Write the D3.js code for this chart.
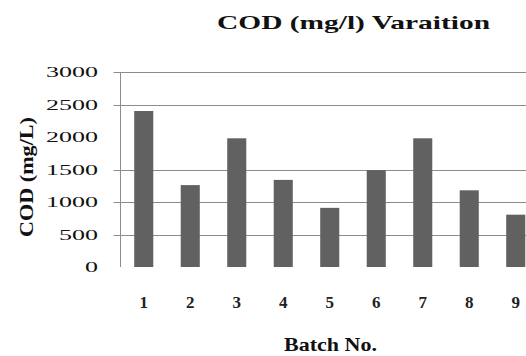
<!DOCTYPE html>
<html>
<head>
<meta charset="utf-8">
<script src="https://cdn.jsdelivr.net/npm/d3@7"></script>
<style>
  html, body { margin: 0; padding: 0; background: #fff; }
</style>
</head>
<body>
<svg id="chart" width="526" height="356"></svg>
<script>
// Batch numbers and measured COD values (mg/L)
const batches = ["1", "2", "3", "4", "5", "6", "7", "8", "9"];
const codValues = [2400, 1260, 1980, 1340, 910, 1490, 1980, 1180, 805];
// Y tick labels and the values that carry a gridline
const yTickValues = [0, 500, 1000, 1500, 2000, 2500, 3000];
const gridValues = [500, 1000, 1500, 2500, 3000];

const FONT = "'Liberation Serif', 'DejaVu Serif', 'Times New Roman', serif";

const svg = d3.select("#chart");
const W = 526;

const axisX = 120.5;
const step = 46.5;

const y = d3.scaleLinear().domain([0, 3000]).range([267, 72]);
const x = d3.scaleBand()
  .domain(batches)
  .range([axisX, axisX + step * batches.length])
  .paddingInner(0.59)
  .paddingOuter(0.295);

const gridColor = "#8c8c8c";

// gridlines with short outer tick marks
svg.append("g").selectAll("line")
  .data(gridValues)
  .join("line")
  .attr("x1", axisX - 7)
  .attr("x2", W)
  .attr("y1", d => Math.round(y(d)) + 0.5)
  .attr("y2", d => Math.round(y(d)) + 0.5)
  .attr("stroke", gridColor)
  .attr("stroke-width", 1);

// vertical value axis line
svg.append("line")
  .attr("x1", axisX).attr("x2", axisX)
  .attr("y1", y(3000)).attr("y2", y(0))
  .attr("stroke", gridColor)
  .attr("stroke-width", 1);

// bars
svg.append("g").selectAll("rect")
  .data(codValues)
  .join("rect")
  .attr("x", (d, i) => x(batches[i]))
  .attr("width", x.bandwidth())
  .attr("y", d => y(d))
  .attr("height", d => y(0) - y(d))
  .attr("fill", "#616161");

// y tick labels (wide serif digits)
svg.append("g").selectAll("text")
  .data(yTickValues)
  .join("text")
  .attr("x", 98)
  .attr("y", d => y(d) + 5)
  .attr("text-anchor", "end")
  .attr("font-family", FONT)
  .attr("font-size", 14)
  .attr("fill", "#111")
  .attr("textLength", d => String(d).length * 13)
  .attr("lengthAdjust", "spacingAndGlyphs")
  .text(d => d);

// x category labels
svg.append("g").selectAll("text")
  .data(batches)
  .join("text")
  .attr("x", d => x(d) + x.bandwidth() / 2)
  .attr("y", 308)
  .attr("text-anchor", "middle")
  .attr("font-family", FONT)
  .attr("font-size", 17)
  .attr("font-weight", "bold")
  .attr("fill", "#222")
  .text(d => d);

// title
svg.append("text")
  .attr("x", 217)
  .attr("y", 29)
  .attr("font-family", FONT)
  .attr("font-size", 19)
  .attr("font-weight", "bold")
  .attr("fill", "#111")
  .attr("textLength", 273)
  .attr("lengthAdjust", "spacingAndGlyphs")
  .text("COD (mg/l) Varaition");

// y axis title
svg.append("text")
  .attr("transform", "translate(33,177) rotate(-90)")
  .attr("text-anchor", "middle")
  .attr("font-family", FONT)
  .attr("font-size", 18)
  .attr("font-weight", "bold")
  .attr("fill", "#111")
  .attr("textLength", 120)
  .attr("lengthAdjust", "spacingAndGlyphs")
  .text("COD (mg/L)");

// x axis title
svg.append("text")
  .attr("x", 284)
  .attr("y", 351)
  .attr("font-family", FONT)
  .attr("font-size", 19)
  .attr("font-weight", "bold")
  .attr("fill", "#111")
  .attr("textLength", 93)
  .attr("lengthAdjust", "spacingAndGlyphs")
  .text("Batch No.");
</script>
</body>
</html>
